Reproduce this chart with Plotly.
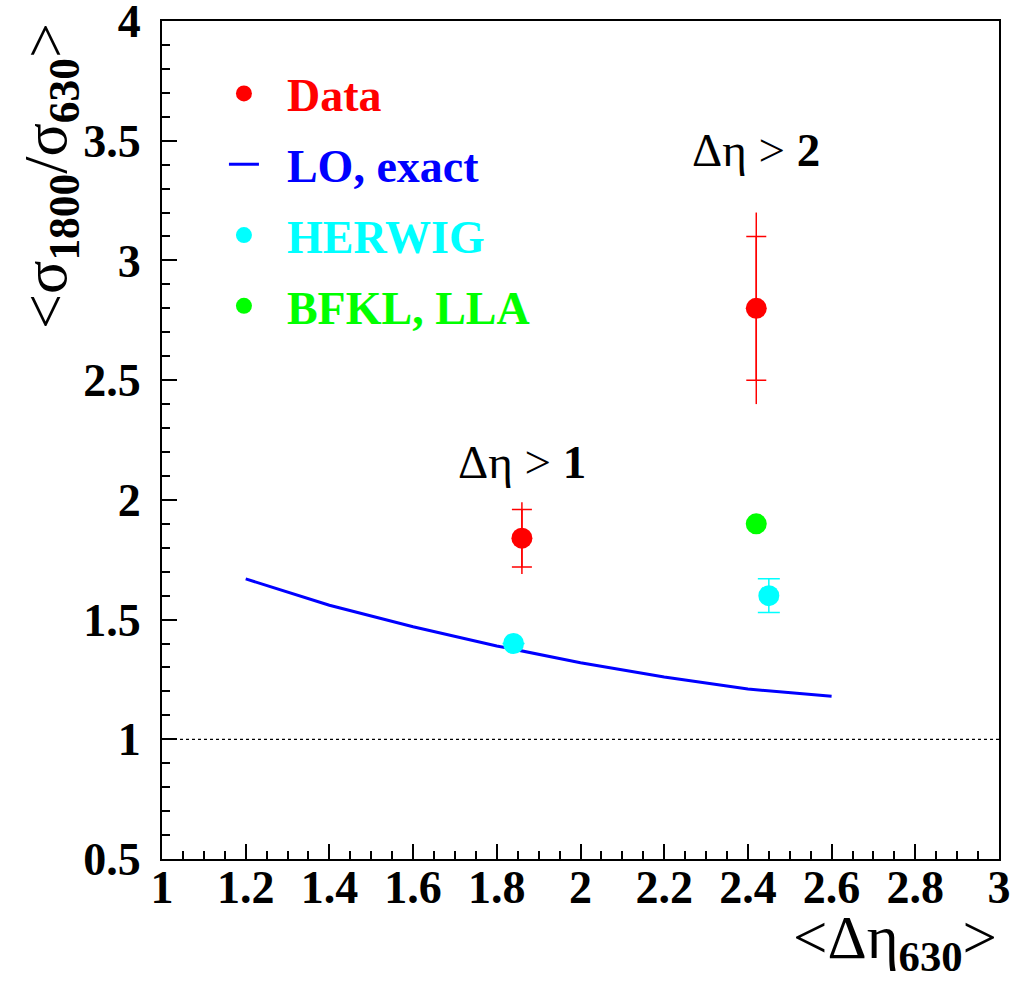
import plotly.graph_objects as go

# ---- data ----
data_x = [1.86, 2.42]
data_y = [1.84, 2.80]
data_stat = [0.12, 0.30]
data_tot = [0.15, 0.40]

lo_x = [1.2, 1.4, 1.6, 1.8, 2.0, 2.2, 2.4, 2.6]
lo_y = [1.67, 1.56, 1.47, 1.39, 1.32, 1.26, 1.21, 1.18]

herwig_x = [1.84, 2.45]
herwig_y = [1.40, 1.60]
herwig_err = [0.0, 0.07]

bfkl_x = [2.42]
bfkl_y = [1.90]

FONT = "Liberation Serif"
RED, BLUE, CYAN, GREEN = "#ff0000", "#0000ff", "#00ffff", "#00ff00"

def lname(txt, col):
    return "&nbsp;&nbsp;<span style='color:%s'><b>%s</b></span>" % (col, txt)

fig = go.Figure()

# total error (no caps)
fig.add_trace(go.Scatter(
    x=data_x, y=data_y, mode="markers", showlegend=False,
    marker=dict(size=1, color="rgba(0,0,0,0)"),
    error_y=dict(type="data", array=data_tot, color=RED, thickness=1.5, width=0),
    hoverinfo="skip"))
# data with stat error caps
fig.add_trace(go.Scatter(
    x=data_x, y=data_y, mode="markers", name=lname("Data", RED), legendgroup="a",
    marker=dict(size=21, color=RED, symbol="circle"),
    error_y=dict(type="data", array=data_stat, color=RED, thickness=1.5, width=10)))
fig.add_trace(go.Scatter(
    x=lo_x, y=lo_y, mode="lines", name=lname("LO, exact", BLUE), legendgroup="b",
    line=dict(color=BLUE, width=3)))
fig.add_trace(go.Scatter(
    x=herwig_x, y=herwig_y, mode="markers", name=lname("HERWIG", CYAN), legendgroup="c",
    marker=dict(size=21, color=CYAN),
    error_y=dict(type="data", array=herwig_err, color=CYAN, thickness=1.5, width=11)))
fig.add_trace(go.Scatter(
    x=bfkl_x, y=bfkl_y, mode="markers", name=lname("BFKL, LLA", GREEN), legendgroup="d",
    marker=dict(size=21, color=GREEN)))

fig.add_shape(type="line", xref="paper", x0=0, x1=1, yref="y", y0=1, y1=1,
              line=dict(color="black", width=1.2, dash="dot"))

axis_common = dict(
    showline=True, linecolor="black", linewidth=2, mirror=True,
    ticks="inside", ticklen=15, tickwidth=1.5, tickcolor="black",
    showgrid=False, zeroline=False, automargin=False,
    ticklabeloverflow="allow",
    tickfont=dict(family=FONT, size=46, color="black", weight="bold"),
)
fig.update_xaxes(range=[1, 3], dtick=0.2, tick0=1, ticklabelstandoff=-13,
                 minor=dict(ticks="inside", ticklen=8, dtick=0.05, tickcolor="black", tickwidth=1.5),
                 **axis_common)
fig.update_yaxes(range=[0.5, 4], dtick=0.5, tick0=0.5, ticklabelstandoff=10,
                 minor=dict(ticks="inside", ticklen=8, dtick=0.1, tickcolor="black", tickwidth=1.5),
                 **axis_common)

annos = [
    dict(x=1.86, y=2.16, xref="x", yref="y", text="Δη > <b>1</b>", showarrow=False,
         font=dict(family=FONT, size=47, color="black")),
    dict(x=2.42, y=3.46, xref="x", yref="y", text="Δη > <b>2</b>", showarrow=False,
         font=dict(family=FONT, size=47, color="black")),
    dict(x=1.0, y=-0.051, xref="paper", yref="paper", xanchor="right", yanchor="top",
         text="<Δη<sub><b>630</b></sub>>", showarrow=False,
         font=dict(family=FONT, size=61, color="black")),
    dict(x=-0.135, y=1.0, xref="paper", yref="paper", xanchor="center", yanchor="top",
         textangle=-90, text="<σ<sub><b>1800</b></sub>/σ<sub><b>630</b></sub>>", showarrow=False,
         font=dict(family=FONT, size=62, color="black")),
]

fig.update_layout(
    width=1013, height=981,
    margin=dict(l=162, r=14, t=21, b=122),
    paper_bgcolor="white", plot_bgcolor="white",
    annotations=annos,
    legend=dict(x=0.074, y=0.957, xanchor="left", yanchor="top",
                bgcolor="rgba(0,0,0,0)", borderwidth=0,
                font=dict(family=FONT, size=46, color="black"),
                tracegroupgap=8, itemwidth=30),
)

fig.write_html("out.html")
